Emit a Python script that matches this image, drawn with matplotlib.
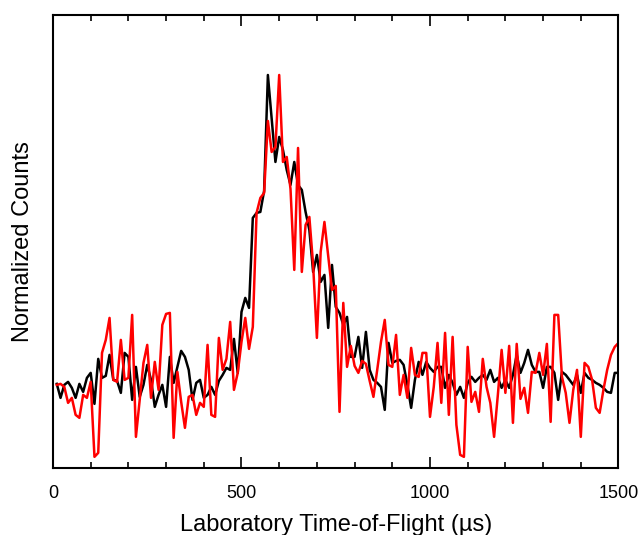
import numpy as np
import matplotlib
matplotlib.use("Agg")
from matplotlib import pyplot as plt
from matplotlib.ticker import MultipleLocator

plt.rcParams['font.family'] = ['Liberation Sans', 'DejaVu Sans']

# time-of-flight channels (us), 10 us bins
tof = np.arange(10, 1510, 10)

# raw counts per channel, two runs
counts_black = np.array([
    83, 69, 82, 85, 79, 69, 83, 75, 89, 94,
    63, 108, 89, 91, 112, 87, 86, 74, 114, 110,
    67, 100, 70, 82, 102, 87, 60, 72, 82, 60,
    110, 84, 100, 116, 110, 97, 67, 84, 87, 69,
    72, 80, 72, 86, 92, 99, 97, 128, 94, 155,
    169, 159, 249, 254, 255, 276, 392, 349, 305, 330,
    317, 297, 282, 305, 282, 277, 255, 237, 195, 212,
    185, 192, 139, 202, 160, 154, 142, 150, 110, 110,
    130, 99, 135, 97, 87, 84, 80, 57, 124, 104,
    106, 107, 102, 82, 59, 87, 105, 92, 105, 99,
    95, 100, 100, 79, 92, 84, 72, 80, 69, 84,
    90, 85, 89, 92, 87, 97, 85, 89, 79, 87,
    79, 92, 112, 94, 104, 117, 102, 95, 95, 79,
    100, 100, 94, 67, 95, 92, 87, 82, 92, 74,
    94, 89, 87, 84, 82, 79, 75, 74, 94, 94,
])

counts_red = np.array([
    82, 83, 80, 64, 69, 52, 49, 72, 69, 85,
    10, 14, 114, 127, 149, 87, 85, 127, 87, 89,
    152, 30, 67, 104, 122, 69, 105, 77, 142, 153,
    154, 29, 95, 65, 39, 70, 72, 52, 64, 60,
    122, 52, 50, 129, 97, 108, 145, 77, 94, 125,
    149, 118, 140, 254, 269, 274, 346, 315, 320, 392,
    305, 310, 278, 197, 319, 195, 242, 250, 202, 129,
    215, 245, 211, 177, 181, 55, 164, 100, 121, 101,
    94, 106, 103, 86, 70, 97, 125, 147, 102, 100,
    132, 72, 92, 69, 119, 92, 90, 114, 114, 50,
    80, 124, 64, 134, 52, 130, 42, 12, 10, 120,
    65, 75, 55, 108, 80, 64, 30, 72, 117, 74,
    121, 44, 123, 68, 79, 54, 95, 94, 114, 92,
    123, 45, 152, 152, 90, 74, 44, 77, 97, 30,
    104, 100, 87, 59, 54, 77, 97, 112, 120, 124,
])

norm_black = counts_black / counts_black.max()
norm_red = counts_red / counts_red.max()

fig = plt.figure(figsize=(6.4, 5.35), dpi=100)
ax = fig.add_axes([0.0828, 0.1252, 0.8836, 0.8467])

ax.plot(tof, norm_black, color='black', lw=1.8)
ax.plot(tof, norm_red, color='#ff0000', lw=1.8)

ax.set_xlim(0, 1500)
ax.set_ylim(-0.003, 1.153)

ax.xaxis.set_major_locator(MultipleLocator(500))
ax.xaxis.set_minor_locator(MultipleLocator(100))
ax.tick_params(axis='x', which='both', direction='in', top=True, width=1.2,
               labelsize=13, pad=12)
ax.tick_params(axis='x', which='major', length=8)
ax.tick_params(axis='x', which='minor', length=4.5)
ax.set_yticks([])

for s in ax.spines.values():
    s.set_linewidth(1.5)

ax.set_xlabel('Laboratory Time-of-Flight (µs)', fontsize=17, labelpad=9)
ax.set_ylabel('Normalized Counts', fontsize=17, labelpad=14)

plt.savefig('out.png', dpi=100)
